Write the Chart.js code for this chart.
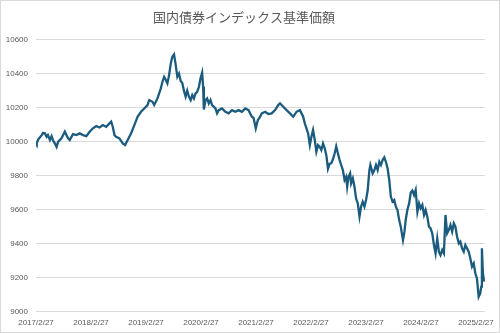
<!DOCTYPE html>
<html lang="ja">
<head>
<meta charset="utf-8">
<title>国内債券インデックス基準価額</title>
<script src="https://cdn.jsdelivr.net/npm/chart.js@4"></script>
<style>
  html, body { margin: 0; padding: 0; background: #fff; }
  canvas { display: block; }
</style>
</head>
<body>
<canvas id="nav-chart" width="500" height="333"></canvas>
<script>
// x: years elapsed since 2017/2/27, y: 基準価額 (円)
const years = [
    0.000, 0.013, 0.042, 0.103, 0.126, 0.163, 0.193, 0.217, 0.253, 0.284,
    0.312, 0.343, 0.374, 0.403, 0.464, 0.524, 0.554, 0.583, 0.614, 0.645,
    0.674, 0.735, 0.795, 0.854, 0.916, 0.975, 1.035, 1.096, 1.156, 1.215,
    1.277, 1.336, 1.367, 1.396, 1.427, 1.457, 1.517, 1.577, 1.620, 1.667,
    1.728, 1.788, 1.847, 1.909, 1.968, 2.028, 2.059, 2.118, 2.149, 2.209,
    2.270, 2.299, 2.330, 2.360, 2.389, 2.420, 2.451, 2.479, 2.510, 2.541,
    2.570, 2.600, 2.631, 2.660, 2.691, 2.721, 2.750, 2.781, 2.812, 2.841,
    2.871, 2.902, 2.931, 2.962, 2.992, 3.021, 3.039, 3.052, 3.083, 3.112,
    3.142, 3.173, 3.202, 3.263, 3.292, 3.323, 3.382, 3.444, 3.503, 3.563,
    3.624, 3.684, 3.744, 3.805, 3.865, 3.924, 3.955, 3.996, 4.033, 4.076,
    4.105, 4.166, 4.226, 4.285, 4.347, 4.406, 4.437, 4.497, 4.556, 4.618,
    4.677, 4.737, 4.798, 4.858, 4.888, 4.948, 4.979, 5.008, 5.038, 5.069,
    5.098, 5.129, 5.159, 5.188, 5.219, 5.250, 5.279, 5.309, 5.340, 5.369,
    5.400, 5.430, 5.459, 5.490, 5.521, 5.549, 5.580, 5.611, 5.640, 5.658,
    5.683, 5.712, 5.730, 5.761, 5.791, 5.820, 5.851, 5.882, 5.911, 5.941,
    5.972, 6.001, 6.032, 6.062, 6.080, 6.122, 6.153, 6.182, 6.212, 6.243,
    6.272, 6.302, 6.333, 6.362, 6.393, 6.423, 6.452, 6.483, 6.514, 6.543,
    6.573, 6.604, 6.633, 6.673, 6.700, 6.723, 6.754, 6.785, 6.814, 6.844,
    6.875, 6.904, 6.935, 6.965, 6.994, 7.025, 7.056, 7.085, 7.115, 7.146,
    7.175, 7.205, 7.236, 7.265, 7.296, 7.326, 7.355, 7.386, 7.417, 7.446,
    7.476, 7.507, 7.536, 7.567, 7.597, 7.626, 7.657, 7.688, 7.716, 7.747,
    7.778, 7.807, 7.837, 7.868, 7.897, 7.928, 7.959, 7.988, 8.018, 8.049,
    8.078, 8.096, 8.108, 8.126, 8.150
];

const nav = [
    10000, 9990, 10013, 10038, 10050, 10048, 10028, 10038, 10009, 10032,
    10005, 9989, 9969, 9999, 10019, 10058, 10038, 10019, 10009, 10028,
    10044, 10038, 10048, 10038, 10032, 10058, 10078, 10091, 10083, 10097,
    10087, 10107, 10117, 10087, 10038, 10028, 10019, 9989, 9979, 10009,
    10048, 10097, 10146, 10175, 10195, 10215, 10244, 10234, 10215, 10254,
    10313, 10352, 10381, 10362, 10342, 10391, 10460, 10499, 10513, 10450,
    10381, 10400, 10356, 10345, 10298, 10264, 10300, 10264, 10244, 10274,
    10254, 10283, 10293, 10322, 10372, 10405, 10322, 10189, 10244, 10254,
    10224, 10244, 10215, 10195, 10166, 10185, 10195, 10175, 10166, 10185,
    10175, 10185, 10175, 10195, 10185, 10146, 10140, 10078, 10126, 10146,
    10166, 10175, 10162, 10166, 10185, 10215, 10225, 10205, 10185, 10166,
    10146, 10175, 10185, 10146, 10107, 10048, 9979, 10028, 10068, 10009,
    9940, 9979, 9969, 9950, 9989, 9960, 9920, 9840, 9870, 9872,
    9896, 9930, 9972, 9930, 9891, 9862, 9832, 9774, 9793, 9734,
    9793, 9813, 9754, 9783, 9734, 9666, 9636, 9558, 9617, 9646,
    9617, 9656, 9715, 9832, 9862, 9813, 9832, 9862, 9832, 9881,
    9862, 9891, 9907, 9881, 9842, 9774, 9676, 9646, 9656, 9617,
    9597, 9538, 9499, 9420, 9470, 9540, 9600, 9636, 9700, 9712,
    9685, 9715, 9587, 9636, 9607, 9627, 9568, 9597, 9558, 9499,
    9489, 9460, 9391, 9342, 9430, 9352, 9332, 9362, 9342, 9568,
    9460, 9480, 9509, 9470, 9519, 9499, 9440, 9401, 9411, 9372,
    9352, 9391, 9372, 9352, 9313, 9264, 9283, 9225, 9195, 9087,
    9107, 9146, 9372, 9225, 9176
];

const tickLabels = [
    '2017/2/27', '2018/2/27', '2019/2/27', '2020/2/27', '2021/2/27',
    '2022/2/27', '2023/2/27', '2024/2/27', '2025/2/27'
];

const axisFont = { family: "'Liberation Sans', Arial, sans-serif", size: 8 };
const textColor = '#595959';
const gridColor = '#d9d9d9';

// white background + thin frame around the whole chart
const frame = {
    id: 'frame',
    beforeDraw(chart) {
        const ctx = chart.ctx;
        ctx.save();
        ctx.fillStyle = '#ffffff';
        ctx.fillRect(0, 0, chart.width, chart.height);
        ctx.strokeStyle = gridColor;
        ctx.lineWidth = 1;
        ctx.strokeRect(0.5, 0.5, chart.width - 1, chart.height - 1);
        ctx.restore();
    }
};

const navChart = new Chart(document.getElementById('nav-chart').getContext('2d'), {
    type: 'line',
    data: {
        datasets: [{
            label: '基準価額',
            data: years.map((t, i) => ({ x: t, y: nav[i] })),
            borderColor: '#1b5c7e',
            borderWidth: 2.3,
            pointRadius: 0,
            tension: 0,
            fill: false
        }]
    },
    options: {
        responsive: false,
        animation: false,
        layout: { padding: { left: 0, right: 12, top: 0, bottom: 0 } },
        plugins: {
            legend: { display: false },
            tooltip: { enabled: false },
            title: {
                display: true,
                text: '国内債券インデックス基準価額',
                color: textColor,
                font: { family: "'Noto Sans CJK JP', 'Noto Sans', sans-serif", size: 13, weight: 'normal' },
                padding: { top: 9, bottom: 15 }
            }
        },
        scales: {
            x: {
                type: 'linear',
                min: 0,
                max: 8.163,
                afterFit: (scale) => { scale.height = 21.5; },
                afterBuildTicks: (scale) => { scale.ticks = tickLabels.map((_, i) => ({ value: i })); },
                grid: { display: false, drawTicks: false },
                border: { display: false },
                ticks: {
                    autoSkip: false,
                    maxRotation: 0,
                    padding: 6,
                    color: textColor,
                    font: axisFont,
                    callback: (value, index) => tickLabels[index]
                }
            },
            y: {
                min: 9000,
                max: 10600,
                afterFit: (scale) => { scale.width = 36; },
                grid: { color: gridColor, lineWidth: 1, drawTicks: false },
                border: { display: false },
                ticks: {
                    stepSize: 200,
                    padding: 8,
                    color: textColor,
                    font: axisFont,
                    callback: (value) => String(value)
                }
            }
        }
    },
    plugins: [frame]
});
</script>
</body>
</html>
